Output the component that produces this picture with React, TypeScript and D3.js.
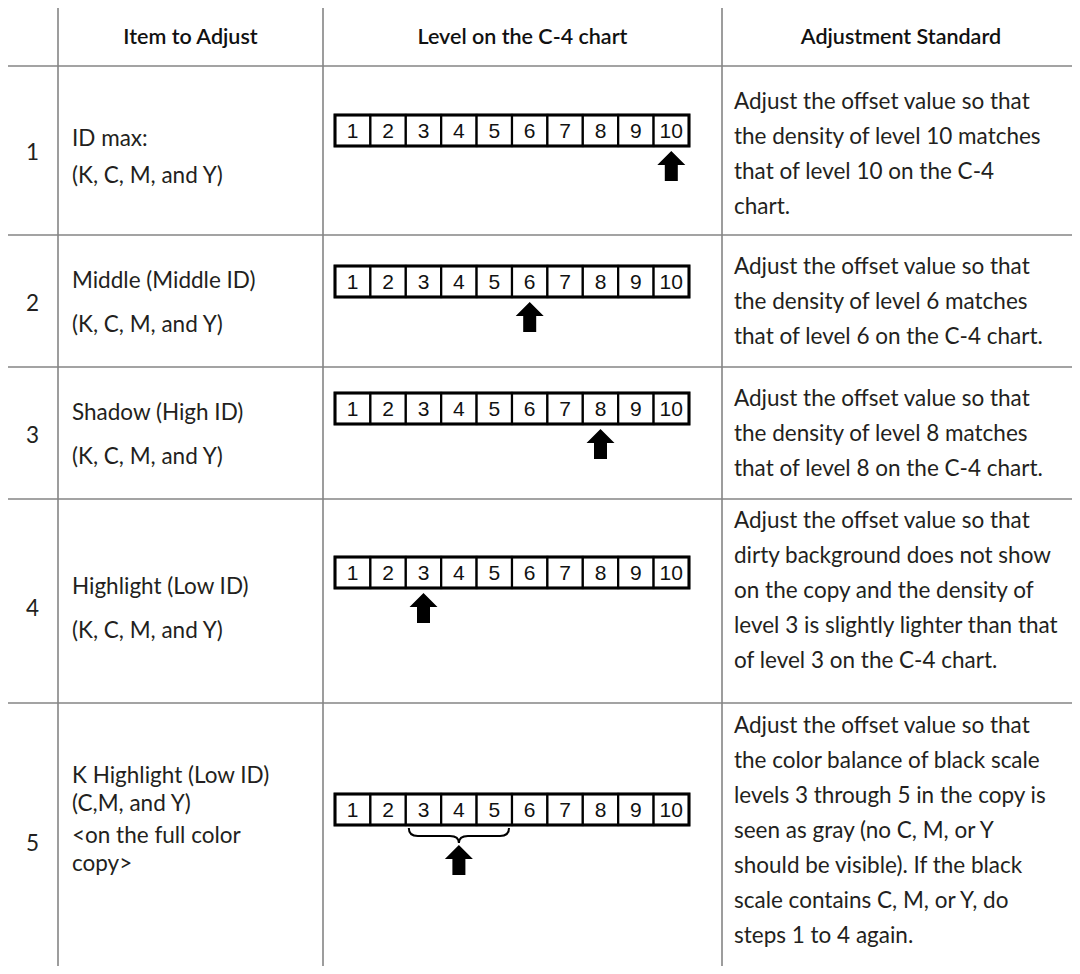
import * as d3 from "d3";

// table content
const headers = ["", "Item to Adjust", "Level on the C-4 chart", "Adjustment Standard"];
const levels = [1, 2, 3, 4, 5, 6, 7, 8, 9, 10];
const rowNumbers = ["1", "2", "3", "4", "5"];
const itemLines = [
  ["ID max:", "(K, C, M, and Y)"],
  ["Middle (Middle ID)", "(K, C, M, and Y)"],
  ["Shadow (High ID)", "(K, C, M, and Y)"],
  ["Highlight (Low ID)", "(K, C, M, and Y)"],
  ["K Highlight (Low ID)", "(C,M, and Y)", "<on the full color", "copy>"],
];
const targetLevels = [[10], [6], [8], [3], [3, 4, 5]];
const standardLines = [
  [
    "Adjust the offset value so that",
    "the density of level 10 matches",
    "that of level 10 on the C-4",
    "chart.",
  ],
  [
    "Adjust the offset value so that",
    "the density of level 6 matches",
    "that of level 6 on the C-4 chart.",
  ],
  [
    "Adjust the offset value so that",
    "the density of level 8 matches",
    "that of level 8 on the C-4 chart.",
  ],
  [
    "Adjust the offset value so that",
    "dirty background does not show",
    "on the copy and the density of",
    "level 3 is slightly lighter than that",
    "of level 3 on the C-4 chart.",
  ],
  [
    "Adjust the offset value so that",
    "the color balance of black scale",
    "levels 3 through 5 in the copy is",
    "seen as gray (no C, M, or Y",
    "should be visible). If the black",
    "scale contains C, M, or Y, do",
    "steps 1 to 4 again.",
  ],
];

// layout
const width = 1080;
const height = 974;
const colX = [7, 58, 323, 722, 1080];
const headerTop = 6;
const rowTops = [66, 235, 367, 499, 703, 990];
const numberY = [152, 303, 435, 608, 843];
const itemY = [
  [139, 176],
  [281, 325],
  [413, 457],
  [587, 631],
  [776, 804, 836, 864],
];
const stripY = [115, 266, 393, 557, 794];
const stdTop = [102, 267, 399, 521, 726];
const lineGap = 35;
const stripH = 31;
const bodyFont = "Lato, 'Noto Sans', sans-serif";
const bodySize = 22.5;
const gridColor = "#858585";
const textColor = "#231f20";

const x = d3.scaleBand<number>().domain(levels).range([335, 689]).paddingInner(0);

function Arrow({ cx, top }: { cx: number; top: number }) {
  const p = d3.path();
  p.moveTo(cx, top);
  p.lineTo(cx + 14, top + 14);
  p.lineTo(cx + 6.5, top + 14);
  p.lineTo(cx + 6.5, top + 30);
  p.lineTo(cx - 6.5, top + 30);
  p.lineTo(cx - 6.5, top + 14);
  p.lineTo(cx - 14, top + 14);
  p.closePath();
  return <path d={p.toString()} fill="#000" />;
}

function Brace({ x0, x1, top }: { x0: number; x1: number; top: number }) {
  const mid = (x0 + x1) / 2;
  const p = d3.path();
  p.moveTo(x0, top);
  p.quadraticCurveTo(x0, top + 8, x0 + 9, top + 8);
  p.lineTo(mid - 9, top + 8);
  p.quadraticCurveTo(mid, top + 8, mid, top + 15);
  p.quadraticCurveTo(mid, top + 8, mid + 9, top + 8);
  p.lineTo(x1 - 9, top + 8);
  p.quadraticCurveTo(x1, top + 8, x1, top);
  return <path d={p.toString()} fill="none" stroke="#000" strokeWidth={2} />;
}

function Strip({ y, targets }: { y: number; targets: number[] }) {
  const bw = x.bandwidth();
  const first = targets[0];
  const last = targets[targets.length - 1];
  const cx = (x(first)! + x(last)! + bw) / 2;
  const isRange = targets.length > 1;
  return (
    <g>
      {levels.map((l) => (
        <g key={l}>
          <rect x={x(l)} y={y} width={bw} height={stripH} fill="#fff" stroke="#000" strokeWidth={2.2} />
          <text
            x={x(l)! + bw / 2}
            y={y + stripH / 2 + 7.5}
            textAnchor="middle"
            fontFamily="'Liberation Sans', Arial, sans-serif"
            fontSize={21}
            fill="#111"
          >
            {l}
          </text>
        </g>
      ))}
      <rect x={x(1)} y={y} width={x(10)! + bw - x(1)!} height={stripH} fill="none" stroke="#000" strokeWidth={3} />
      {isRange && <Brace x0={x(first)! + 3} x1={x(last)! + bw - 3} top={y + stripH + 3} />}
      <Arrow cx={cx} top={y + stripH + (isRange ? 20 : 5)} />
    </g>
  );
}

export default function App() {
  return (
    <svg width={width} height={height} style={{ display: "block", margin: "-8px", background: "#fff" }}>
      <rect width={width} height={height} fill="#fff" />
      {/* grid */}
      <g stroke={gridColor} strokeWidth={1.6}>
        <line x1={colX[0]} x2={width} y1={headerTop} y2={headerTop} />
        {rowTops.slice(0, 5).map((t) => (
          <line key={t} x1={colX[0]} x2={width} y1={t} y2={t} />
        ))}
        {colX.slice(0, 4).map((cx) => (
          <line key={cx} x1={cx} x2={cx} y1={headerTop} y2={height} />
        ))}
      </g>
      {/* header */}
      {headers.map((h, i) => (
        <text
          key={i}
          x={(colX[i] + colX[i + 1]) / 2}
          y={(headerTop + rowTops[0]) / 2 + 8}
          textAnchor="middle"
          fontFamily={bodyFont}
          fontSize={21.5}
          fontWeight={600}
          fill="#111"
        >
          {h}
        </text>
      ))}
      {rowNumbers.map((n, r) => (
        <g key={n}>
          <text
            x={(colX[0] + colX[1]) / 2}
            y={numberY[r] + 8}
            textAnchor="middle"
            fontFamily={bodyFont}
            fontSize={bodySize}
            fill={textColor}
          >
            {n}
          </text>
          {itemLines[r].map((t, i) => (
            <text key={i} x={72} y={itemY[r][i] + 7} fontFamily={bodyFont} fontSize={bodySize} fill={textColor}>
              {t}
            </text>
          ))}
          <Strip y={stripY[r]} targets={targetLevels[r]} />
          {standardLines[r].map((t, i) => (
            <text key={i} x={734} y={stdTop[r] + i * lineGap + 7} fontFamily={bodyFont} fontSize={bodySize} fill={textColor}>
              {t}
            </text>
          ))}
        </g>
      ))}
    </svg>
  );
}
